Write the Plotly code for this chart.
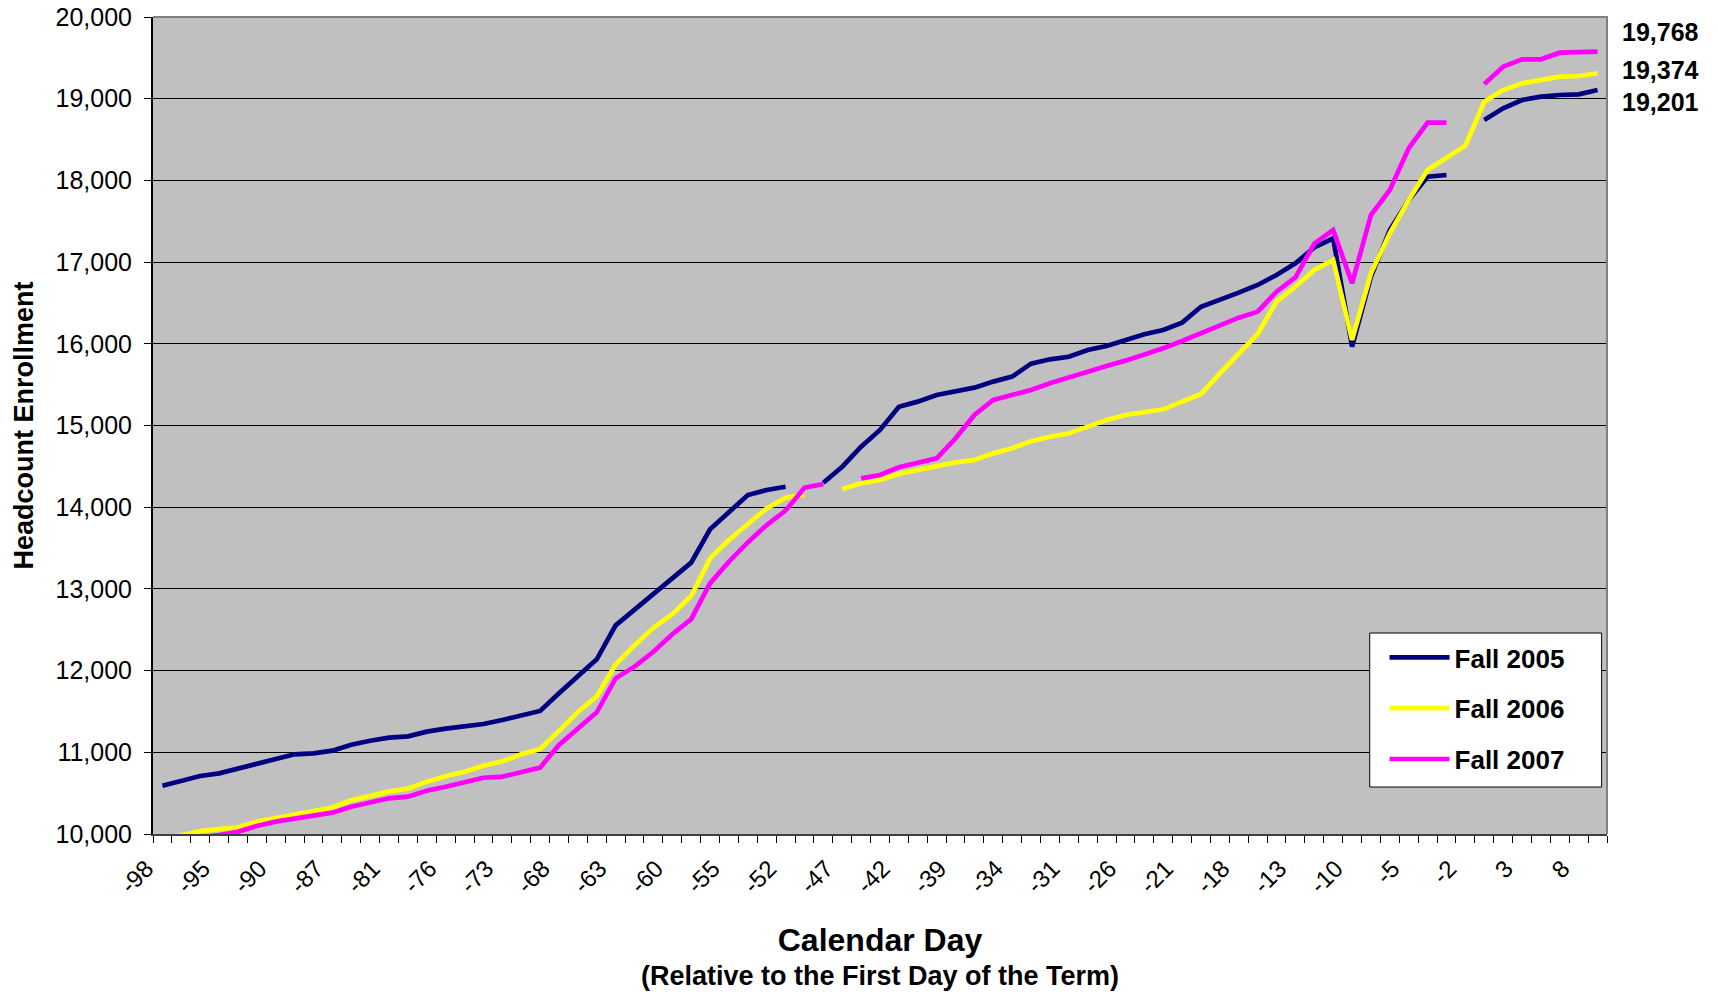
import plotly.graph_objects as go

# Calendar days (relative to first day of term) shown as categories
days = ["-98","-97","-96","-95","-94","-91","-90","-89","-88","-87",
        "-83","-82","-81","-80","-77","-76","-75","-74","-73","-70",
        "-69","-68","-67","-66","-63","-62","-61","-60","-59","-56",
        "-55","-54","-53","-52","-49","-48","-47","-46","-45","-42",
        "-41","-40","-39","-38","-35","-34","-33","-32","-31","-28",
        "-27","-26","-25","-24","-21","-20","-19","-18","-17","-14",
        "-13","-12","-11","-10","-7","-6","-5","-4","-3","-2",
        "0","1","3","4","7","8","9"]

tick_labels = ["-98","-95","-90","-87","-81","-76","-73","-68","-63","-60",
               "-55","-52","-47","-42","-39","-34","-31","-26","-21","-18",
               "-13","-10","-5","-2","3","8"]

fall_2005 = [10591, 10652, 10710, 10742, 10796, 10857, 10918, 10975, 10987, 11020,
             11093, 11142, 11179, 11195, 11253, 11290, 11314, 11346, 11395, 11457,
             11506, 11722, 11934, 12138, 12554, 12746, 12938, 13133, 13321, 13729,
             13935, 14149, 14210, 14251, None, 14300, 14496, 14741, 14945, 15230,
             15292, 15373, 15422, 15463, 15537, 15598, 15757, 15810, 15842, 15924,
             15973, 16047, 16116, 16169, 16259, 16454, 16536, 16626, 16720, 16842,
             16985, 17180, 17291, 15965, 16822, 17393, 17760, 18046, 18066, None,
             18739, 18882, 18984, 19025, 19045, 19053, 19106]

fall_2006 = [9935, 9985, 10035, 10060, 10082, 10151, 10196, 10240, 10288, 10324,
             10412, 10471, 10518, 10555, 10641, 10706, 10763, 10836, 10890, 10975,
             11040, 11262, 11493, 11685, 12075, 12309, 12523, 12690, 12913, 13374,
             13599, 13795, 13986, 14117, 14157, None, 14223, 14292, 14333, 14406,
             14455, 14504, 14549, 14578, 14659, 14721, 14808, 14863, 14904, 14986,
             15067, 15129, 15169, 15198, 15292, 15386, 15639, 15883, 16120, 16516,
             16699, 16903, 17026, 16047, 16863, 17352, 17760, 18127, 18270, 18425,
             18963, 19106, 19188, 19229, 19270, 19278, 19311]

fall_2007 = [9900, 9927, 9951, 9988, 10028, 10098, 10151, 10192, 10233, 10261,
             10334, 10388, 10437, 10457, 10530, 10579, 10635, 10689, 10702, 10763,
             10812, 11090, 11290, 11490, 11905, 12048, 12231, 12446, 12630, 13068,
             13333, 13570, 13782, 13958, 14239, 14284, None, 14353, 14394, 14488,
             14549, 14598, 14843, 15129, 15312, 15373, 15435, 15516, 15590, 15667,
             15728, 15794, 15863, 15945, 16034, 16128, 16230, 16320, 16393, 16638,
             16812, 17226, 17393, 16740, 17577, 17882, 18393, 18707, 18707, None,
             19180, 19392, 19482, 19482, 19563, 19567, 19576]

series_names = ["Fall 2005", "Fall 2006", "Fall 2007"]
series_colors = ["#000080", "#FFFF00", "#FF00FF"]
final_labels = ["19,768", "19,374", "19,201"]

FONT = "Liberation Sans, Arial, sans-serif"

fig = go.Figure()
for name, vals, col in zip(series_names, [fall_2005, fall_2006, fall_2007], series_colors):
    fig.add_trace(go.Scatter(
        x=days, y=vals, name=name, mode="lines",
        line=dict(color=col, width=4.7),
        connectgaps=False, legendgroup=name,
    ))

ticktext = [d if d in tick_labels else "" for d in days]

fig.update_layout(
    width=1718, height=995,
    margin=dict(l=153, r=111, t=17, b=161),
    paper_bgcolor="white",
    plot_bgcolor="#C0C0C0",
    font=dict(family=FONT, color="black", size=22),
    showlegend=True,
    legend=dict(
        x=0.847, y=0.2448, xanchor="left", yanchor="top",
        bgcolor="rgba(0,0,0,0)", borderwidth=0,
        font=dict(size=26, weight="bold", family=FONT),
        tracegroupgap=14, itemwidth=60,
    ),
)

fig.update_xaxes(
    type="category",
    categoryorder="array", categoryarray=days,
    range=[-0.5, len(days) - 0.5],
    tickmode="array", tickvals=days, ticktext=ticktext,
    tickson="boundaries",
    ticks="outside", ticklen=7, tickcolor="black", tickwidth=1,
    tickangle=-45,
    tickfont=dict(size=24, family=FONT),
    ticklabelshift=-16,
    ticklabelstandoff=9,
    showgrid=False,
    showline=True, linecolor="#404040", linewidth=2,
    zeroline=False,
    automargin=False,
    title=dict(
        text="<b>Calendar Day</b>",
        font=dict(size=32, family=FONT),
        standoff=31,
    ),
)

fig.update_yaxes(
    range=[10000, 20000],
    tickmode="linear", tick0=10000, dtick=1000,
    tickformat=",d",
    ticks="outside", ticklen=7, tickcolor="black", tickwidth=1,
    tickfont=dict(size=25, family=FONT),
    ticklabelstandoff=7,
    ticklabeloverflow="allow",
    showgrid=True, gridcolor="black", gridwidth=1,
    showline=True, linecolor="black", linewidth=2,
    zeroline=False,
    automargin=False,
    title=dict(text="<b>Headcount Enrollment</b>", font=dict(size=27, family=FONT), standoff=14),
)

fig.add_annotation(text="<b>(Relative to the First Day of the Term)</b>",
                   xref="paper", yref="paper", x=0.5, y=-0.1738,
                   xanchor="center", yanchor="middle", showarrow=False,
                   font=dict(size=27, family=FONT, color="black"))

# legend frame
fig.add_shape(type="rect", xref="paper", yref="paper",
              x0=0.8368, x1=0.9963, y0=0.0575, y1=0.246,
              fillcolor="white", line=dict(color="black", width=1), layer="above")

# gray border on top and right of plot area
fig.add_shape(type="path", xref="paper", yref="paper",
              path="M 0,1 L 1,1 L 1,0", line=dict(color="#808080", width=2), layer="above")

for txt, ypos in zip(final_labels, [0.9816, 0.9351, 0.896]):
    fig.add_annotation(text="<b>" + txt + "</b>", xref="paper", yref="paper",
                       x=1.0087, y=ypos, xanchor="left", yanchor="middle",
                       showarrow=False, font=dict(size=25, family=FONT, color="black"))

fig.write_html("out.html", config={"displayModeBar": False},
               post_script="document.body.style.margin='0px';")
